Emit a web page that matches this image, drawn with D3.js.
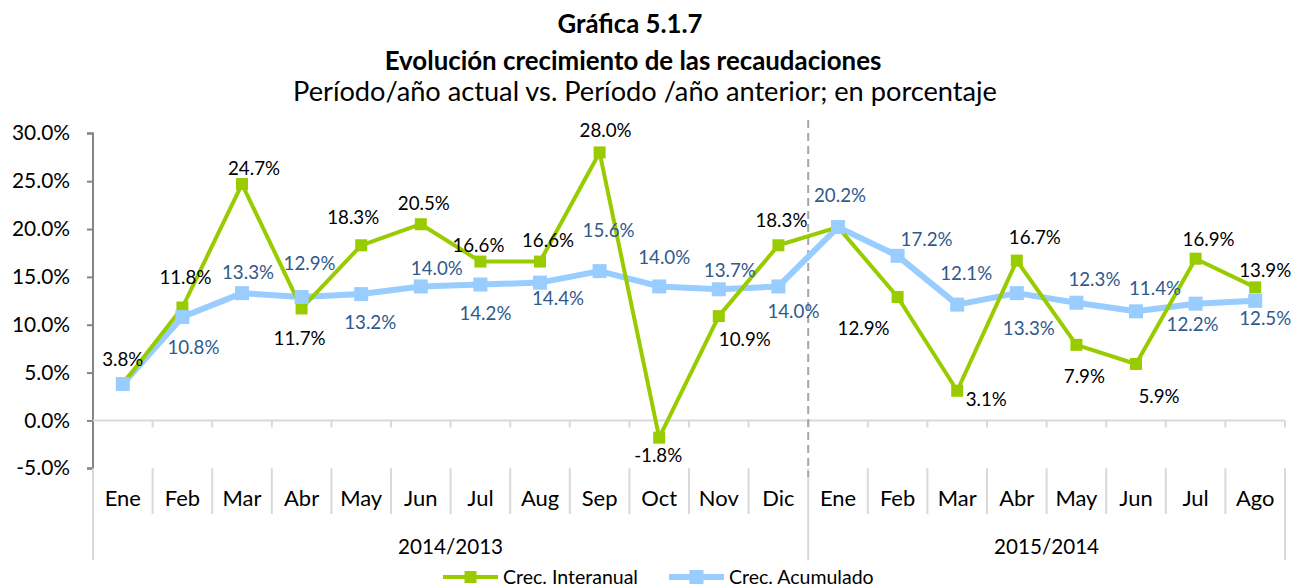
<!DOCTYPE html>
<html>
<head>
<meta charset="utf-8">
<script src="https://cdn.jsdelivr.net/npm/d3@7"></script>
<style>
  body { margin: 0; background: #ffffff; }
  svg { display: block; font-family: Lato, "Open Sans", sans-serif; }
</style>
</head>
<body>
<svg id="chart" width="1292" height="588"></svg>
<script>
// ---- data ----
const months = ["Ene","Feb","Mar","Abr","May","Jun","Jul","Aug","Sep","Oct","Nov","Dic",
                "Ene","Feb","Mar","Abr","May","Jun","Jul","Ago"];
const periods = ["2014/2013", "2015/2014"];
const periodLengths = [12, 8];
const interanual = [3.8, 11.8, 24.7, 11.7, 18.3, 20.5, 16.6, 16.6, 28.0, -1.8, 10.9, 18.3,
                    20.2, 12.9, 3.1, 16.7, 7.9, 5.9, 16.9, 13.9];
const acumulado  = [3.8, 10.8, 13.3, 12.9, 13.2, 14.0, 14.2, 14.4, 15.6, 14.0, 13.7, 14.0,
                    20.2, 17.2, 12.1, 13.3, 12.3, 11.4, 12.2, 12.5];
const yTicks = [-5, 0, 5, 10, 15, 20, 25, 30];
const seriesNames = ["Crec. Interanual", "Crec. Acumulado"];
const titleLines = ["Gráfica 5.1.7", "Evolución crecimiento de las recaudaciones",
                    "Período/año actual vs. Período /año anterior; en porcentaje"];

// label placement relative to each marker (null = no label)
const interanualLabelPos = [[0,-25],[3,-30],[12,-16],[-2,30],[-8,-28],[3,-21],[-2,-16],[8,-21],
  [6,-22],[-1,18],[26,23],[3,-25],null,[-34,31],[29,8],[18,-23],[8,31],[23,32],[13,-19],[10,-17]];
const acumuladoLabelPos = [null,[11,30],[6,-21],[8,-34],[9,28],[16,-18],[5,29],[18,16],
  [9,-41],[5,-29],[11,-19],[15,25],[2,-32],[29,-17],[9,-31],[12,35],[18,-23],[19,-23],[-3,21],[10,17]];

// ---- layout ----
const svg = d3.select("#chart");
const plot = { left: 93, right: 1285, top: 133.3, bottom: 468.3 };
const green = "#99CC00", blue = "#99CCFF", blueText = "#2F5A8C";
const gridGrey = "#D9D9D9", axisGrey = "#868686";

// font size that gives a sample string a given width
function fitSize(sample, width, weight) {
  const t = svg.append("text").attr("font-size", 100).attr("font-weight", weight || "normal").text(sample);
  const w = t.node().getComputedTextLength();
  t.remove();
  return 100 * width / w;
}
const fsTick = fitSize("30.0%", 58);
const fsMonth = fitSize("May", 42);
const fsPeriod = fitSize("2014/2013", 105);
const fsLabel = fitSize("24.7%", 52);
const fsLegend = fitSize("Crec. Interanual", 135);

const x = d3.scaleBand().domain(d3.range(months.length)).range([plot.left, plot.right]).padding(0);
const y = d3.scaleLinear().domain([-5, 30]).range([plot.bottom, plot.top]);
const cx = i => x(i) + x.bandwidth() / 2;

// ---- titles ----
const titleSpec = [
  { cx: 630, base: 33, width: 145, weight: "bold" },
  { cx: 633, base: 70, width: 497, weight: "bold" },
  { cx: 645, base: 101, width: 704, weight: "normal" }
];
titleLines.forEach((txt, i) => {
  const s = titleSpec[i];
  svg.append("text").attr("x", s.cx).attr("y", s.base).attr("text-anchor", "middle")
    .attr("font-size", fitSize(txt, s.width, s.weight)).attr("font-weight", s.weight)
    .attr("fill", "#000").text(txt);
});

// ---- y axis ----
const yAxis = d3.axisLeft(y).tickValues(yTicks).tickSize(6).tickPadding(17)
  .tickFormat(d => d.toFixed(1) + "%");
const gy = svg.append("g").attr("transform", `translate(${plot.left},0)`).call(yAxis);
gy.select(".domain").attr("stroke", axisGrey).attr("stroke-width", 2)
  .attr("d", `M-6,${plot.top}H0V${plot.bottom}H-6`);
gy.selectAll(".tick line").attr("stroke", axisGrey).attr("stroke-width", 2);
gy.selectAll(".tick text").attr("font-size", fsTick).attr("fill", "#000")
  .attr("font-family", "Lato, 'Open Sans', sans-serif");

// ---- horizontal axis at zero with boundary ticks ----
const zeroY = y(0);
svg.append("line").attr("x1", plot.left).attr("x2", plot.right).attr("y1", zeroY).attr("y2", zeroY)
  .attr("stroke", gridGrey).attr("stroke-width", 2);
const boundaries = d3.range(months.length + 1).map(i => i < months.length ? x(i) : plot.right);
svg.append("g").selectAll("line").data(boundaries.slice(1)).join("line")
  .attr("x1", d => d).attr("x2", d => d).attr("y1", zeroY).attr("y2", zeroY + 7)
  .attr("stroke", gridGrey).attr("stroke-width", 2);

// ---- multi-level category labels ----
const periodStarts = [0, periodLengths[0]];
const isOuter = i => i === 0 || i === months.length || periodStarts.includes(i);
svg.append("g").selectAll("line").data(d3.range(months.length + 1)).join("line")
  .attr("x1", i => boundaries[i]).attr("x2", i => boundaries[i])
  .attr("y1", plot.bottom).attr("y2", i => isOuter(i) ? 560 : 514)
  .attr("stroke", gridGrey).attr("stroke-width", 2);

svg.append("g").selectAll("text").data(months).join("text")
  .attr("x", (d, i) => cx(i)).attr("y", 506).attr("text-anchor", "middle")
  .attr("font-size", fsMonth).attr("fill", "#000").text(d => d);

svg.append("g").selectAll("text").data(periods).join("text")
  .attr("x", (d, i) => {
    const s = periodStarts[i], e = s + periodLengths[i];
    return (x(s) + (e < months.length ? x(e) : plot.right)) / 2;
  })
  .attr("y", 554).attr("text-anchor", "middle").attr("font-size", fsPeriod).attr("fill", "#000")
  .text(d => d);

// ---- dashed divider between periods ----
svg.append("line").attr("x1", x(periodLengths[0])).attr("x2", x(periodLengths[0]))
  .attr("y1", 120).attr("y2", 477)
  .attr("stroke", "#A6A6A6").attr("stroke-width", 2).attr("stroke-dasharray", "8,5");

// ---- series ----
const line = d3.line().x((d, i) => cx(i)).y(d => y(d));
svg.append("path").datum(acumulado).attr("d", line).attr("fill", "none")
  .attr("stroke", blue).attr("stroke-width", 6).attr("stroke-linejoin", "round");
svg.append("path").datum(interanual).attr("d", line).attr("fill", "none")
  .attr("stroke", green).attr("stroke-width", 4).attr("stroke-linejoin", "round");

const gSize = 12, bSize = 14;
svg.append("g").selectAll("rect").data(interanual).join("rect")
  .attr("x", (d, i) => cx(i) - gSize / 2).attr("y", d => y(d) - gSize / 2)
  .attr("width", gSize).attr("height", gSize).attr("fill", green);
svg.append("g").selectAll("rect").data(acumulado).join("rect")
  .attr("x", (d, i) => cx(i) - bSize / 2).attr("y", d => y(d) - bSize / 2)
  .attr("width", bSize).attr("height", bSize).attr("fill", blue);

// ---- value labels ----
function addLabels(values, pos, color) {
  svg.append("g").selectAll("text")
    .data(values.map((v, i) => ({ v, i, p: pos[i] })).filter(d => d.p))
    .join("text")
    .attr("x", d => cx(d.i) + d.p[0]).attr("y", d => y(d.v) + d.p[1])
    .attr("dy", "0.36em").attr("text-anchor", "middle")
    .attr("font-size", fsLabel).attr("fill", color)
    .text(d => d.v.toFixed(1) + "%");
}
addLabels(interanual, interanualLabelPos, "#000");
addLabels(acumulado, acumuladoLabelPos, blueText);

// ---- legend ----
const legendItems = [
  { name: seriesNames[0], color: green, w: 4, m: gSize, x: 443 },
  { name: seriesNames[1], color: blue, w: 6, m: bSize, x: 669 }
];
const lg = svg.append("g").selectAll("g").data(legendItems).join("g")
  .attr("transform", d => `translate(${d.x},577)`);
lg.append("line").attr("x1", 0).attr("x2", 55).attr("y1", 0).attr("y2", 0)
  .attr("stroke", d => d.color).attr("stroke-width", d => d.w);
lg.append("rect").attr("x", d => 27.5 - d.m / 2).attr("y", d => -d.m / 2)
  .attr("width", d => d.m).attr("height", d => d.m).attr("fill", d => d.color);
lg.append("text").attr("x", 60).attr("y", 0).attr("dy", "0.34em")
  .attr("font-size", fsLegend).attr("fill", "#000").text(d => d.name);
</script>
</body>
</html>
